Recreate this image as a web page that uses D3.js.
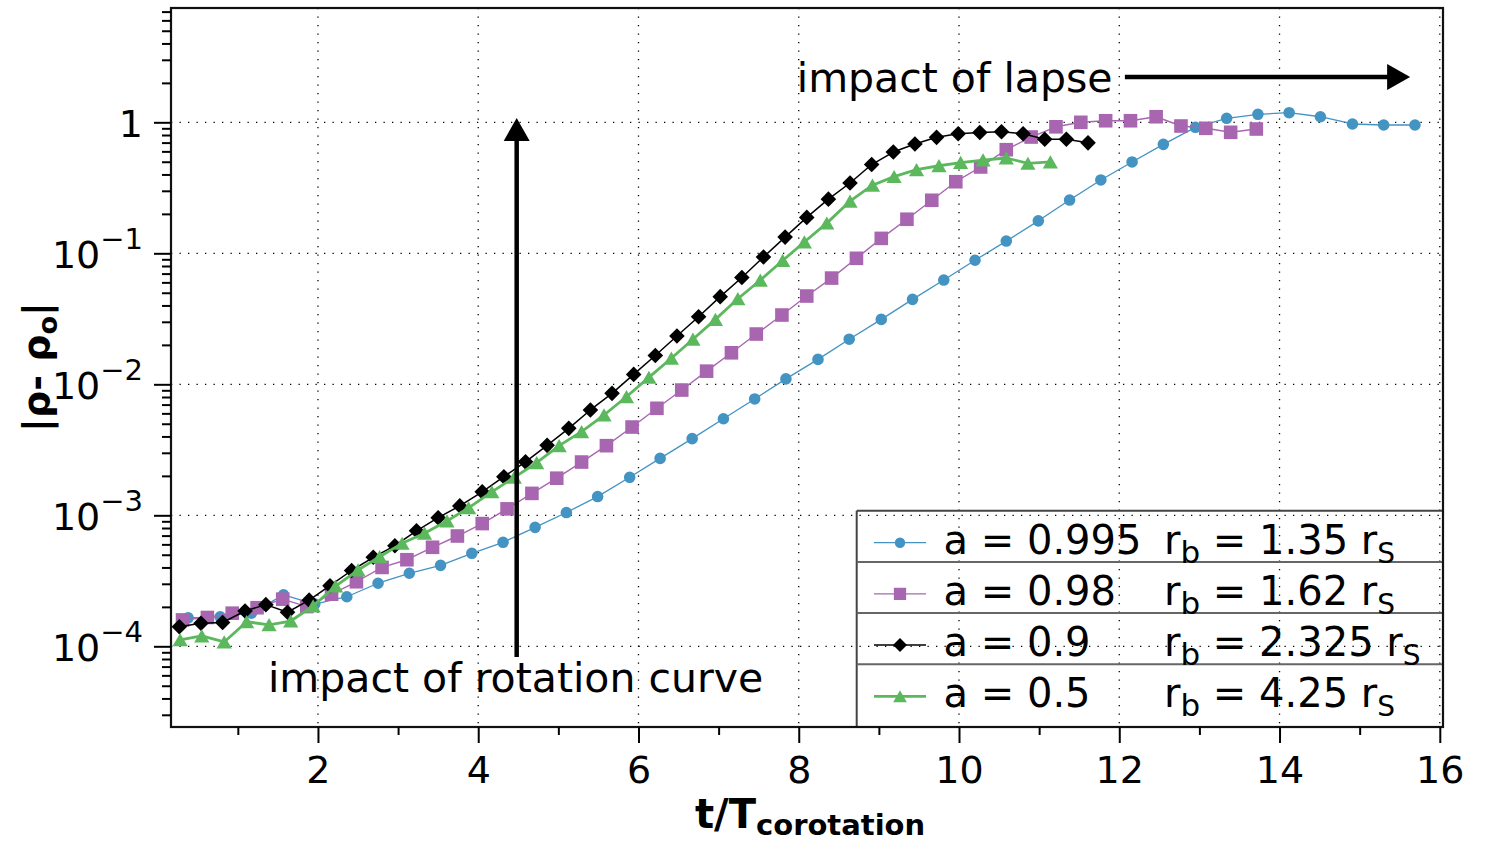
<!DOCTYPE html>
<html>
<head>
<meta charset="utf-8">
<script src="https://cdn.jsdelivr.net/npm/d3@7"></script>
<style>
  body { margin: 0; background: #fff; }
  svg { display: block; }
  text { font-family: "DejaVu Sans", "Noto Sans", sans-serif; fill: #000; }
</style>
</head>
<body>
<svg id="chart" width="1492" height="846"></svg>
<script>
// ---- density perturbation growth |rho - rho_o| versus t / T_corotation ----

// a = 0.995, r_b = 1.35 r_S
const tA0995 = [0.38,0.78,1.17,1.57,1.96,2.36,2.75,3.14,3.53,3.92,4.31,4.71,5.10,5.49,5.89,6.27,6.67,7.06,7.45,7.84,
                8.24,8.63,9.03,9.42,9.81,10.20,10.59,10.99,11.38,11.77,12.16,12.55,12.95,13.34,13.73,14.12,14.51,14.91,15.30,15.69];
const rhoA0995 = [1.65e-4,1.68e-4,1.79e-4,2.47e-4,2.10e-4,2.39e-4,3.03e-4,3.61e-4,4.15e-4,5.13e-4,6.22e-4,8.09e-4,1.05e-3,1.39e-3,1.95e-3,2.72e-3,3.85e-3,5.46e-3,7.73e-3,1.10e-2,
                  1.55e-2,2.21e-2,3.13e-2,4.45e-2,6.25e-2,8.85e-2,0.124,0.177,0.255,0.363,0.498,0.679,0.916,1.073,1.151,1.184,1.103,0.971,0.954,0.954];

// a = 0.98, r_b = 1.62 r_S
const tA098 = [0.31,0.62,0.93,1.24,1.56,1.86,2.17,2.48,2.80,3.11,3.43,3.74,4.05,4.36,4.67,4.98,5.29,5.60,5.92,6.23,6.54,6.85,
               7.16,7.47,7.79,8.10,8.41,8.72,9.03,9.35,9.66,9.96,10.27,10.59,10.90,11.21,11.52,11.83,12.14,12.46,12.77,13.08,13.39,13.71];
const rhoA098 = [1.59e-4,1.66e-4,1.79e-4,1.97e-4,2.29e-4,2.01e-4,2.50e-4,3.11e-4,4.00e-4,4.58e-4,5.70e-4,6.95e-4,8.65e-4,1.12e-3,1.47e-3,1.92e-3,2.55e-3,3.40e-3,4.72e-3,6.56e-3,9.04e-3,1.26e-2,
                 1.74e-2,2.42e-2,3.38e-2,4.72e-2,6.47e-2,9.16e-2,0.130,0.182,0.254,0.352,0.456,0.618,0.772,0.924,1.00,1.028,1.028,1.103,0.937,0.900,0.839,0.889];

// a = 0.9, r_b = 2.325 r_S
const tA09 = [0.27,0.54,0.81,1.09,1.35,1.62,1.89,2.15,2.42,2.69,2.96,3.23,3.50,3.77,4.05,4.32,4.59,4.86,5.13,5.40,5.67,5.94,
              6.21,6.48,6.75,7.02,7.29,7.56,7.83,8.10,8.37,8.64,8.91,9.18,9.45,9.72,9.99,10.26,10.53,10.80,11.07,11.34,11.61];
const rhoA09 = [1.41e-4,1.50e-4,1.52e-4,1.86e-4,2.08e-4,1.82e-4,2.25e-4,2.90e-4,3.79e-4,4.78e-4,5.86e-4,7.62e-4,9.59e-4,1.18e-3,1.51e-3,1.97e-3,2.56e-3,3.42e-3,4.61e-3,6.37e-3,8.53e-3,1.19e-2,
                1.66e-2,2.34e-2,3.28e-2,4.67e-2,6.53e-2,9.37e-2,0.133,0.188,0.259,0.344,0.476,0.593,0.683,0.768,0.818,0.836,0.848,0.818,0.742,0.742,0.697];

// a = 0.5, r_b = 4.25 r_S
const tA05 = [0.28,0.55,0.83,1.11,1.39,1.66,1.94,2.22,2.50,2.77,3.05,3.33,3.61,3.88,4.17,4.45,4.73,5.01,5.29,5.57,
              5.85,6.13,6.41,6.68,6.96,7.24,7.52,7.80,8.07,8.35,8.64,8.92,9.19,9.47,9.75,10.02,10.30,10.59,10.86,11.14];
const rhoA05 = [1.12e-4,1.20e-4,1.08e-4,1.54e-4,1.46e-4,1.56e-4,2.03e-4,2.88e-4,3.82e-4,4.83e-4,6.11e-4,7.29e-4,9.04e-4,1.14e-3,1.51e-3,1.95e-3,2.52e-3,3.40e-3,4.35e-3,5.83e-3,
                8.04e-3,1.13e-2,1.58e-2,2.21e-2,3.13e-2,4.50e-2,6.23e-2,8.81e-2,0.122,0.170,0.250,0.331,0.385,0.435,0.466,0.493,0.515,0.534,0.486,0.498];

// legend entries
const spinLabels   = ["0.995", "0.98", "0.9", "0.5"];
const radiusLabels = ["1.35", "1.62", "2.325", "4.25"];

// axis ticks
const xTickValues  = [2, 4, 6, 8, 10, 12, 14, 16];
const xMinorValues = [1, 3, 5, 7, 9, 11, 13, 15];
const yTickValues  = [1e-4, 1e-3, 1e-2, 1e-1, 1];
const yTickBase    = ["10", "10", "10", "10", "1"];
const yTickExp     = ["\u22124", "\u22123", "\u22122", "\u22121", ""];

// ---- layout ----
const svg = d3.select("#chart");
const P = { left: 171, top: 8, right: 1443, bottom: 727 };

const x = d3.scaleLinear().domain([0.166, 16.04]).range([P.left, P.right]);
const y = d3.scaleLog().domain([2.421e-5, 7.458]).range([P.bottom, P.top]);

// ---- grid ----
const grid = svg.append("g").attr("stroke", "#000").attr("stroke-width", 1.3)
  .attr("stroke-dasharray", "1.3,7.2");
grid.selectAll("line.gx").data(xTickValues).join("line")
  .attr("x1", d => x(d)).attr("x2", d => x(d)).attr("y1", P.top).attr("y2", P.bottom);
grid.selectAll("line.gy").data(yTickValues).join("line")
  .attr("y1", d => y(d)).attr("y2", d => y(d)).attr("x1", P.left).attr("x2", P.right);

// ---- markers ----
function markerPath(shape) {
  switch (shape) {
    case "circle":   return d3.symbol(d3.symbolCircle, Math.PI * 5.8 * 5.8)();
    case "square":   return "M-6.8,-6.8H6.8V6.8H-6.8Z";
    case "diamond":  return "M0,-7.8L7.8,0L0,7.8L-7.8,0Z";
    case "triangle": return "M0,-6.7L7.6,6.5L-7.6,6.5Z";
  }
}

const series = [
  { t: tA0995, v: rhoA0995, color: "#4393c3", width: 1.3, shape: "circle" },
  { t: tA098,  v: rhoA098,  color: "#a866b0", width: 1.4, shape: "square" },
  { t: tA09,   v: rhoA09,   color: "#000000", width: 1.5, shape: "diamond" },
  { t: tA05,   v: rhoA05,   color: "#5cb85c", width: 2.8, shape: "triangle" }
];

const line = d3.line().x(d => x(d[0])).y(d => y(d[1]));
const plotG = svg.append("g");
series.forEach(s => {
  const pts = s.t.map((t, i) => [t, s.v[i]]);
  const g = plotG.append("g");
  g.append("path").datum(pts).attr("d", line)
    .attr("fill", "none").attr("stroke", s.color).attr("stroke-width", s.width)
    .attr("stroke-linejoin", "round");
  g.selectAll("path.m").data(pts).join("path").attr("class", "m")
    .attr("d", markerPath(s.shape))
    .attr("transform", d => `translate(${x(d[0])},${y(d[1])})`)
    .attr("fill", s.color);
});

// ---- legend ----
const leg = { left: 856.7, top: 510.7, rowH: 51.2 };
const legG = svg.append("g");
legG.append("line").attr("x1", leg.left).attr("x2", P.right).attr("y1", leg.top).attr("y2", leg.top)
  .attr("stroke", "#444").attr("stroke-width", 2);
legG.append("line").attr("x1", leg.left).attr("x2", leg.left).attr("y1", leg.top).attr("y2", P.bottom)
  .attr("stroke", "#444").attr("stroke-width", 2);
[1, 2, 3].forEach(i => {
  legG.append("line").attr("x1", leg.left).attr("x2", P.right)
    .attr("y1", leg.top + i * leg.rowH).attr("y2", leg.top + i * leg.rowH)
    .attr("stroke", "#666").attr("stroke-width", 2);
});
series.forEach((s, i) => {
  const top = leg.top + i * leg.rowH;
  const my = top + 32;
  legG.append("line").attr("x1", 874).attr("x2", 926).attr("y1", my).attr("y2", my)
    .attr("stroke", s.color).attr("stroke-width", s.width);
  legG.append("path").attr("d", markerPath(s.shape)).attr("fill", s.color)
    .attr("transform", `translate(900,${my}) scale(0.9)`);
  const base = top + 43;
  legG.append("text").attr("x", 943.5).attr("y", base).attr("font-size", 40)
    .text("a = " + spinLabels[i]);
  const tr = legG.append("text").attr("x", 1164).attr("y", base).attr("font-size", 40);
  tr.append("tspan").text("r");
  tr.append("tspan").attr("font-size", 31).attr("dy", 9).text("b");
  tr.append("tspan").attr("dy", -9).text(" = " + radiusLabels[i] + " r");
  tr.append("tspan").attr("font-size", 28).attr("dy", 9).text("S");
});

// ---- frame ----
svg.append("rect").attr("x", P.left).attr("y", P.top)
  .attr("width", P.right - P.left).attr("height", P.bottom - P.top)
  .attr("fill", "none").attr("stroke", "#111").attr("stroke-width", 2.2);

// ---- axes ----
const xAxis = svg.append("g").attr("transform", `translate(0,${P.bottom})`)
  .call(d3.axisBottom(x).tickValues(xTickValues).tickSize(16).tickFormat(d3.format("d")));
svg.append("g").attr("transform", `translate(0,${P.bottom})`)
  .call(d3.axisBottom(x).tickValues(xMinorValues).tickSize(8).tickFormat(""));

const yMinor = [];
for (let e = -5; e <= 0; e++) for (let m = 2; m <= 9; m++) {
  const v = m * Math.pow(10, e);
  if (v > y.domain()[0] && v < y.domain()[1]) yMinor.push(v);
}
const yAxis = svg.append("g").attr("transform", `translate(${P.left},0)`)
  .call(d3.axisLeft(y).tickValues(yTickValues).tickSize(17).tickFormat(""));
svg.append("g").attr("transform", `translate(${P.left},0)`)
  .call(d3.axisLeft(y).tickValues(yMinor).tickSize(9).tickFormat(""));

svg.selectAll(".domain").remove();
svg.selectAll(".tick line").attr("stroke", "#000").attr("stroke-width", 2);

xAxis.selectAll(".tick text")
  .attr("y", 56).attr("dy", null).attr("font-size", 38)
  .attr("font-family", "DejaVu Sans").attr("fill", "#000");

yAxis.selectAll(".tick").each(function (d, i) {
  const t = d3.select(this).append("text")
    .attr("x", -28).attr("y", 14).attr("text-anchor", "end")
    .attr("font-size", 38).attr("fill", "#000");
  t.append("tspan").text(yTickBase[i]);
  if (yTickExp[i]) t.append("tspan").attr("font-size", 29).attr("dy", -19).text(yTickExp[i]);
});

// ---- axis titles ----
const xt = svg.append("text").attr("x", 695).attr("y", 828)
  .attr("font-size", 40).attr("font-weight", "bold");
xt.append("tspan").text("t/T");
xt.append("tspan").attr("font-size", 29).attr("dy", 7).text("corotation");

const yt = svg.append("text").attr("transform", "translate(49,367) rotate(-90)")
  .attr("text-anchor", "middle").attr("font-size", 38).attr("font-weight", "bold");
yt.append("tspan").text("|\u03c1- \u03c1");
yt.append("tspan").attr("font-size", 27).attr("dy", 8).text("o");
yt.append("tspan").attr("dy", -8).text("|");

// ---- annotations ----
const ann = svg.append("g");
// rotation-curve effect: vertical arrow
const rotT = 4.48, rotFrom = 8.3e-5, rotTo = 1.08;
ann.append("line").attr("x1", x(rotT)).attr("x2", x(rotT))
  .attr("y1", y(rotFrom)).attr("y2", y(rotTo) + 20)
  .attr("stroke", "#000").attr("stroke-width", 4.5);
ann.append("path")
  .attr("d", `M${x(rotT)},${y(rotTo)}L${x(rotT) + 13},${y(rotTo) + 23}L${x(rotT) - 13},${y(rotTo) + 23}Z`)
  .attr("fill", "#000");
ann.append("text").attr("x", x(1.376)).attr("y", y(4.48e-5)).attr("font-size", 41)
  .text("impact of rotation curve");

// lapse effect: horizontal arrow
const lapseV = 2.22, lapseFrom = 12.07, lapseTo = 15.63;
ann.append("line").attr("x1", x(lapseFrom)).attr("x2", x(lapseTo) - 20)
  .attr("y1", y(lapseV)).attr("y2", y(lapseV))
  .attr("stroke", "#000").attr("stroke-width", 4.5);
ann.append("path")
  .attr("d", `M${x(lapseTo)},${y(lapseV)}L${x(lapseTo) - 23},${y(lapseV) - 13}L${x(lapseTo) - 23},${y(lapseV) + 13}Z`)
  .attr("fill", "#000");
ann.append("text").attr("x", x(7.975)).attr("y", y(1.70)).attr("font-size", 41)
  .text("impact of lapse");
</script>
</body>
</html>
